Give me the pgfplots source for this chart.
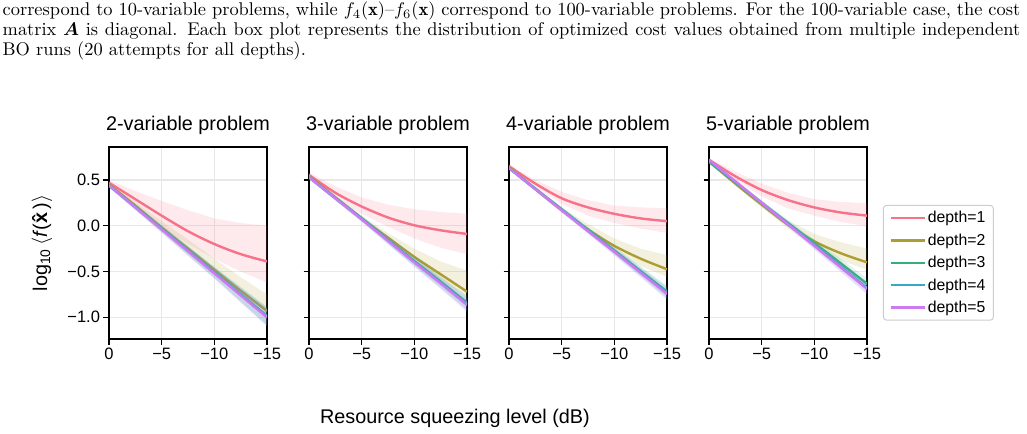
\documentclass[border=0pt]{standalone}
\usepackage{amsmath}
\usepackage{graphicx}
\usepackage{fontspec}
\usepackage{pgfplots}
\usepackage{pgfplotstable}
\pgfplotsset{compat=1.18}
\newfontfamily\arial{Liberation Sans}

\definecolor{c1}{HTML}{F77189}
\definecolor{c2}{HTML}{AE9D31}
\definecolor{c3}{HTML}{33B07A}
\definecolor{c4}{HTML}{38A9C5}
\definecolor{c5}{HTML}{CC7AF4}

% mean log10 cost per depth against squeezing level (dB)
\pgfplotstableread{
x     d1    d2    d3     d4     d5
0     0.47  0.45  0.44   0.44   0.44
-2.5  0.29  0.22  0.205  0.203  0.20
-5    0.11  -0.02 -0.03  -0.035 -0.04
-7.5  -0.06 -0.25 -0.27  -0.272 -0.28
-10   -0.20 -0.48 -0.51  -0.51  -0.52
-12.5 -0.31 -0.71 -0.75  -0.75  -0.76
-15   -0.39 -0.93 -0.985 -0.99  -1.00
}\twovar
% spread of the runs: upper edge from 0 to -15 dB, then lower edge back to 0 dB
\pgfplotstableread{
x     b1    b2    b3     b4     b5
0     0.50  0.47  0.46   0.46   0.46
-2.5  0.38  0.26  0.235  0.233  0.23
-5    0.27  0.05  0.01   0.005  0.00
-7.5  0.17  -0.15 -0.22  -0.222 -0.23
-10   0.08  -0.36 -0.45  -0.45  -0.46
-12.5 0.03  -0.56 -0.67  -0.67  -0.68
-15   0.00  -0.75 -0.885 -0.89  -0.90
-15   -0.62 -1.02 -1.085 -1.09  -1.10
-12.5 -0.50 -0.77 -0.83  -0.83  -0.84
-10   -0.36 -0.53 -0.57  -0.57  -0.58
-7.5  -0.20 -0.29 -0.32  -0.322 -0.33
-5    -0.01 -0.05 -0.07  -0.075 -0.08
-2.5  0.21  0.20  0.175  0.173  0.17
0     0.44  0.43  0.42   0.42   0.42
}\twovarband

\pgfplotstableread{
x     d1    d2    d3     d4     d5
0     0.555 0.54  0.53   0.53   0.53
-2.5  0.36  0.31  0.305  0.30   0.30
-5    0.21  0.08  0.08   0.075  0.07
-7.5  0.09  -0.13 -0.155 -0.16  -0.165
-10   0.005 -0.34 -0.385 -0.395 -0.40
-12.5 -0.05 -0.53 -0.61  -0.625 -0.63
-15   -0.09 -0.72 -0.84  -0.855 -0.865
}\threevar
\pgfplotstableread{
x     b1    b2    b3     b4     b5
0     0.58  0.56  0.55   0.55   0.55
-2.5  0.43  0.33  0.33   0.325  0.325
-5    0.31  0.11  0.11   0.105  0.10
-7.5  0.23  -0.08 -0.115 -0.12  -0.125
-10   0.18  -0.25 -0.335 -0.345 -0.35
-12.5 0.15  -0.39 -0.55  -0.565 -0.57
-15   0.13  -0.49 -0.765 -0.78  -0.79
-15   -0.31 -0.78 -0.915 -0.93  -0.94
-12.5 -0.24 -0.59 -0.67  -0.685 -0.69
-10   -0.14 -0.39 -0.435 -0.445 -0.45
-7.5  -0.01 -0.17 -0.195 -0.20  -0.205
-5    0.13  0.05  0.05   0.045  0.04
-2.5  0.30  0.29  0.28   0.275  0.275
0     0.53  0.52  0.51   0.51   0.51
}\threevarband

\pgfplotstableread{
x     d1    d2     d3     d4     d5
0     0.65  0.64   0.63   0.63   0.63
-2.5  0.46  0.40   0.405  0.40   0.40
-5    0.30  0.17   0.18   0.175  0.17
-7.5  0.20  -0.04  -0.045 -0.05  -0.06
-10   0.13  -0.22  -0.27  -0.28  -0.285
-12.5 0.08  -0.36  -0.495 -0.505 -0.515
-15   0.05  -0.475 -0.72  -0.735 -0.745
}\fourvar
\pgfplotstableread{
x     b1    b2    b3     b4     b5
0     0.67  0.65  0.645  0.645  0.645
-2.5  0.50  0.42  0.425  0.42   0.42
-5    0.37  0.20  0.205  0.20   0.195
-7.5  0.28  0.02  -0.015 -0.02  -0.03
-10   0.22  -0.14 -0.23  -0.24  -0.245
-12.5 0.20  -0.25 -0.445 -0.455 -0.465
-15   0.19  -0.32 -0.655 -0.67  -0.68
-15   -0.08 -0.56 -0.785 -0.80  -0.81
-12.5 -0.03 -0.44 -0.545 -0.555 -0.565
-10   0.03  -0.28 -0.31  -0.32  -0.325
-7.5  0.11  -0.08 -0.075 -0.08  -0.09
-5    0.24  0.14  0.155  0.15   0.145
-2.5  0.42  0.38  0.385  0.38   0.38
0     0.63  0.62  0.615  0.615  0.615
}\fourvarband

\pgfplotstableread{
x     d1    d2    d3     d4     d5
0     0.72  0.70  0.70   0.71   0.72
-2.5  0.54  0.46  0.475  0.48   0.485
-5    0.39  0.23  0.25   0.25   0.25
-7.5  0.28  0.01  0.03   0.02   0.015
-10   0.20  -0.17 -0.19  -0.21  -0.22
-12.5 0.145 -0.30 -0.41  -0.445 -0.455
-15   0.11  -0.40 -0.635 -0.68  -0.69
}\fivevar
\pgfplotstableread{
x     b1     b2    b3     b4     b5
0     0.74   0.71  0.715  0.725  0.735
-2.5  0.59   0.48  0.495  0.50   0.505
-5    0.46   0.26  0.275  0.275  0.275
-7.5  0.36   0.06  0.06   0.05   0.045
-10   0.29   -0.09 -0.15  -0.17  -0.18
-12.5 0.26   -0.18 -0.36  -0.395 -0.405
-15   0.245  -0.25 -0.575 -0.62  -0.63
-15   -0.005 -0.48 -0.695 -0.74  -0.75
-12.5 0.04   -0.38 -0.46  -0.495 -0.505
-10   0.11   -0.23 -0.23  -0.25  -0.26
-7.5  0.19   -0.03 0.00   -0.01  -0.015
-5    0.32   0.20  0.225  0.225  0.225
-2.5  0.50   0.44  0.455  0.46   0.465
0     0.70   0.69  0.685  0.695  0.705
}\fivevarband

% band and mean line of one depth: #1 = depth, #2 = line table, #3 = band table
% (the axis runs from 0 dB on the left to -15 dB on the right)
\newcommand\depthcurve[3]{%
  \addplot[fill=c#1, fill opacity=0.15, draw=none, forget plot]
    table[x expr=-\thisrow{x}, y=b#1] {#3};
  \addplot[c#1, line width=2.4bp, smooth] table[x expr=-\thisrow{x}, y=d#1] {#2};
}
\newcommand\allcurves[2]{%
  \depthcurve{1}{#1}{#2}\depthcurve{2}{#1}{#2}\depthcurve{3}{#1}{#2}%
  \depthcurve{4}{#1}{#2}\depthcurve{5}{#1}{#2}}

\pgfplotsset{
  panel/.style={
    scale only axis, width=158bp, height=192bp,
    xmin=0, xmax=15, ymin=-1.237, ymax=0.86,
    xtick={0,5,10,15}, xticklabels={0,−5,−10,−15},
    ytick={-1,-0.5,0,0.5}, yticklabels={,,,},
    grid=major, major grid style={black!9, line width=1.2bp},
    axis line style={line width=1.2bp}, tick pos=left,
    tick style={black, line width=1.2bp}, tick align=outside,
    major tick length=5.5bp,
    ticklabel style={font=\arial\fontsize{16.5bp}{18bp}\selectfont},
    title style={font=\arial\fontsize{19.8bp}{22bp}\selectfont, at={(0.5,1)}, anchor=base, yshift=11bp},
    legend image code/.code={\draw[#1] (0bp,0bp) -- (34bp,0bp);},
  },
}

\begin{document}
\begin{tikzpicture}
\useasboundingbox (0,0) rectangle (1027bp,434bp);

% caption text, set at 10bp and enlarged
\node[anchor=base west, inner sep=0pt] at (2.5bp,418bp) {\scalebox{1.84}{%
\parbox[t]{553bp}{\fontsize{10bp}{10.65bp}\selectfont
correspond to 10-variable problems, while $f_4(\mathbf{x})$--$f_6(\mathbf{x})$ correspond to 100-variable problems. For the 100-variable case, the cost\linebreak
matrix $\boldsymbol{A}$ is diagonal. Each box plot represents the distribution of optimized cost values obtained from multiple independent\linebreak
BO runs (20 attempts for all depths).}}};

\begin{axis}[panel, at={(109bp,95bp)}, anchor=south west,
  title={2-variable problem}, yticklabels={−1.0,−0.5,0.0,0.5}]
\allcurves{\twovar}{\twovarband}
\end{axis}

\begin{axis}[panel, at={(309bp,95bp)}, anchor=south west, title={3-variable problem}]
\allcurves{\threevar}{\threevarband}
\end{axis}

\begin{axis}[panel, at={(509bp,95bp)}, anchor=south west, title={4-variable problem}]
\allcurves{\fourvar}{\fourvarband}
\end{axis}

\begin{axis}[panel, at={(709bp,95bp)}, anchor=south west, title={5-variable problem},
  legend entries={{depth=1},{depth=2},{depth=3},{depth=4},{depth=5}},
  legend cell align=left,
  legend style={at={(1.101,0.698)}, anchor=north west, draw=black!20, line width=1bp,
    rounded corners=3bp, fill=white, inner xsep=6bp, inner ysep=4bp, row sep=5.5bp,
    font=\arial\fontsize{15.8bp}{18bp}\selectfont}]
\allcurves{\fivevar}{\fivevarband}
\end{axis}

\node[rotate=90, anchor=base, font=\arial\fontsize{19.8bp}{22bp}\selectfont] at (47bp,191bp)
  {log\textsubscript{10}\,$\langle$\textit{f}(\textbf{\^x})$\rangle$};

\node[anchor=base, font=\arial\fontsize{19.8bp}{22bp}\selectfont] at (455bp,11bp)
  {Resource squeezing level (dB)};
\end{tikzpicture}
\end{document}
